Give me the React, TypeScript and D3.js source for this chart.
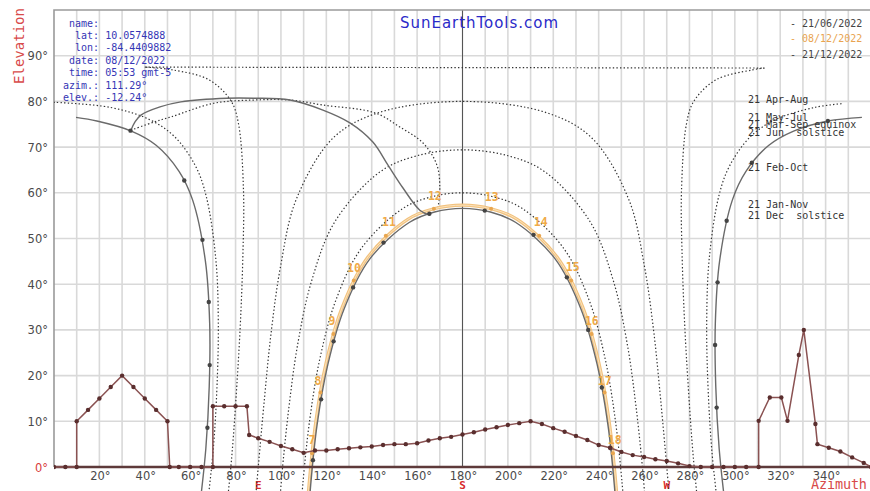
import React, { useEffect, useRef } from 'react';
import * as d3 from 'd3';

const width = 870;
const height = 491;

// horizon profile [azimuth, elevation]
const horizon = [
  [0, 0], [5, 0], [10, 0], [10, 10], [15, 12.5], [20, 15], [25, 17.5], [30, 20], [35, 17.5], [40, 15],
  [45, 12.5], [50, 10], [51, 0], [55, 0], [60, 0], [65, 0], [70, 0], [70, 13.3], [75, 13.3], [80, 13.3],
  [85, 13.3], [86, 7], [90, 6.3], [95, 5.5], [100, 4.6], [105, 3.9], [110, 3.1], [115, 3.6], [120, 3.6],
  [125, 3.9], [130, 4.1], [135, 4.3], [140, 4.5], [145, 4.8], [150, 5.0], [155, 5.0], [160, 5.2], [165, 5.8],
  [170, 6.3], [175, 6.6], [180, 7.1], [185, 7.6], [190, 8.2], [195, 8.7], [200, 9.2], [205, 9.6], [210, 10],
  [215, 9.4], [220, 8.5], [225, 7.7], [230, 6.8], [235, 5.9], [240, 4.8], [245, 4.2], [250, 3.3], [255, 2.6],
  [260, 2.2], [265, 1.7], [270, 1.3], [275, 0.8], [280, 0.2], [285, 0], [290, 0], [295, 0], [300, 0],
  [305, 0], [310.5, 0], [310.5, 10.1], [315.4, 15.2], [320.5, 15.2], [323.2, 10.1], [328.2, 24.5], [330.4, 30],
  [335.5, 9.4], [336.4, 5.0], [341.4, 4.2], [346.5, 3.4], [351.7, 2.1], [356.8, 0.9], [360, 0],
];

// day curves [azimuth, elevation]
const junLeft = [[64.0, -9.5], [66.9, 4.0], [68.4, 17.6], [68.6, 31.4], [66.7, 45.1], [61.1, 58.4], [55.1, 64.7], [45.0, 70.4], [34.1, 73.5], [18.9, 75.7], [9.7, 76.5]];
const junRight = [[356.0, 76.5], [341.1, 75.7], [325.9, 73.5], [315.0, 70.4], [304.9, 64.7], [298.9, 58.4], [293.3, 45.1], [291.4, 31.4], [291.6, 17.6], [293.1, 4.0], [296.0, -9.5]];
const mayLeft = [[67.1, -10.3], [70.1, 3.4], [71.8, 17.4], [72.4, 31.5], [71.3, 45.5], [67.0, 59.4], [62.2, 66.0], [53.1, 72.3], [42.2, 76.0], [24.7, 78.7], [0, 79.8]];
const mayRight = [[347, 79.5], [335.3, 78.7], [317.8, 76.0], [306.9, 72.3], [297.8, 66.0], [293.0, 59.4], [288.7, 45.5], [287.6, 31.5], [288.2, 17.4], [289.9, 3.4], [292.9, -10.3]];
const aprLeft = [[75.4, -12.3], [78.3, 2.1], [80.4, 16.6], [82.1, 31.2], [83.2, 45.8], [83.5, 60.5], [81.3, 75.1], [78.1, 80.0], [68.4, 84.7], [52.2, 86.9], [40, 87.5]];
const aprTop = [[40, 87.5], [313, 87.3]];
const aprRight = [[313, 87.3], [307.8, 86.9], [291.6, 84.7], [281.9, 80.0], [278.7, 75.1], [276.5, 60.5], [276.8, 45.8], [277.9, 31.2], [279.6, 16.6], [281.7, 2.1], [284.6, -12.3]];
const equinox = [[88.7, -7.4], [90, 0], [92.7, 14.8], [95.7, 29.5], [99.9, 44.1], [106.7, 58.5], [123.0, 72.0], [142.8, 77.5], [180, 80], [217.2, 77.5], [237.0, 72.0], [253.3, 58.5], [260.1, 44.1], [264.3, 29.5], [267.3, 14.8], [270, 0], [271.3, -7.4]];
const febOct = [[99.3, -9.1], [100.4, -1.8], [103.4, 12.6], [107.4, 26.9], [113.5, 40.7], [123.8, 53.7], [143.7, 64.6], [159.9, 68.1], [180, 69.4], [200.1, 68.1], [216.3, 64.6], [236.2, 53.7], [246.5, 40.7], [252.6, 26.9], [256.6, 12.6], [259.6, -1.8], [260.7, -9.1]];
const janNov = [[108.7, -10.4], [109.7, -3.4], [112.7, 10.4], [117.2, 23.8], [124.2, 36.5], [135.5, 47.9], [153.8, 56.6], [166.2, 59.1], [180, 60], [193.8, 59.1], [206.2, 56.6], [224.5, 47.9], [235.8, 36.5], [242.8, 23.8], [247.3, 10.4], [250.3, -3.4], [251.3, -10.4]];
const dec21 = [[112.2, -10.8], [113.1, -4.0], [116.0, 9.5], [120.7, 22.5], [127.9, 34.7], [139.1, 45.5], [156.5, 53.5], [167.7, 55.8], [180, 56.6], [192.3, 55.8], [203.5, 53.5], [220.9, 45.5], [232.1, 34.7], [239.3, 22.5], [244.0, 9.5], [246.9, -4.0], [247.8, -10.8]];
const dec08 = [[111.4, -10.7], [112.4, -3.8], [115.3, 9.7], [119.9, 22.8], [127.1, 35.1], [138.4, 46.0], [155.9, 54.2], [167.4, 56.5], [180, 57.3], [192.6, 56.5], [204.1, 54.2], [221.6, 46.0], [232.9, 35.1], [240.1, 22.8], [244.7, 9.7], [247.6, -3.8], [248.6, -10.7]];

// 12:00 hour lines
const noonSolid = [[33.9, 73.7], [35.7, 75.5], [38.3, 77.0], [46.7, 78.8], [55.9, 79.9], [76.2, 80.7], [88.1, 80.7], [104.0, 80.3], [118.5, 78.1], [130.4, 75.3], [140.5, 71.1], [147.1, 66.1], [153.7, 61.1], [161.2, 56.2], [165.6, 55.1]];
const noonDotted = [[33.9, 73.7], [44.1, 75.5], [51.5, 76.6], [70.5, 79.6], [88.1, 80.3], [104.0, 80.3], [118.5, 79.2], [141.4, 77.5], [152.4, 74.4], [162.6, 70.9], [168.7, 66.1], [170.0, 61.1], [169.2, 56.7]];

// hourly points
const dec21Hours = [[114.1, 1.5], [117.7, 14.8], [123.2, 27.5], [131.8, 39.3], [145.2, 49.1], [165.4, 55.4], [189.8, 56.1], [211.3, 50.8], [226.0, 41.5], [235.4, 30.0], [241.4, 17.4], [245.3, 4.1]];
const dec08Hours = [[113.7, 3.0], [117.4, 16.3], [123.1, 29.1], [132.1, 40.8], [146.2, 50.6], [167.4, 56.5], [192.6, 56.5], [213.8, 50.6], [227.9, 40.8], [236.9, 29.1], [242.6, 16.3], [246.3, 3.0]];
const junHours = [[67.6, 8.6], [68.6, 22.3], [68.2, 36.1], [65.4, 49.7], [57.4, 62.7], [33.7, 73.6], [341.0, 75.7], [307.5, 66.6], [296.4, 53.9], [292.4, 40.4], [291.3, 26.7], [292.0, 13.0]];
const hourNames = ['7', '8', '9', '10', '11', '12', '13', '14', '15', '16', '17', '18'];
const hourLabelPos = [[113.7, 5.9], [116.3, 18.8], [122.5, 32.0], [132.2, 43.6], [147.6, 53.6], [167.8, 59.3], [192.9, 59.1], [214.5, 53.6], [228.6, 43.8], [237.0, 32.0], [242.7, 18.8], [247.1, 5.9]];

const elevTicks = [10, 20, 30, 40, 50, 60, 70, 80, 90];
const azimTicks = [20, 40, 60, 80, 100, 120, 140, 160, 180, 200, 220, 240, 260, 280, 300, 320, 340];
const cardinals = [['E', 90], ['S', 180], ['W', 270]];

const infoLines = [' name:', '  lat: 10.0574888', '  lon: -84.4409882', ' date: 08/12/2022', ' time: 05:53 gmt-5', 'azim.: 111.29°', 'elev.: -12.24°'];
const legendDates = ['- 21/06/2022', '- 08/12/2022', '- 21/12/2022'];
const curveNames = ['21 Apr-Aug', '21 May-Jul', '21 Mar-Sep equinox', '21 Jun  solstice', '21 Feb-Oct', '21 Jan-Nov', '21 Dec  solstice'];
const curveNameY = [103, 121, 128, 135.5, 171, 208, 219];

const App = () => {
  const ref = useRef<SVGSVGElement>(null);

  useEffect(() => {
    const svg = d3.select(ref.current);
    svg.selectAll('*').remove();

    const x = d3.scaleLinear().domain([0, 360]).range([54, 871]);
    const y = d3.scaleLinear().domain([0, 100]).range([467, 10]);

    svg.append('rect').attr('width', width).attr('height', height).attr('fill', '#fff');

    // grid
    const grid = svg.append('g');
    grid.selectAll('line.v')
      .data(d3.range(10, 361, 10))
      .enter().append('line')
      .attr('x1', d => x(d)).attr('x2', d => x(d))
      .attr('y1', y(100)).attr('y2', y(0))
      .attr('stroke', '#d9d9d9').attr('stroke-width', 1.6);
    grid.selectAll('line.h')
      .data(elevTicks)
      .enter().append('line')
      .attr('x1', x(0)).attr('x2', width)
      .attr('y1', d => y(d)).attr('y2', d => y(d))
      .attr('stroke', '#d9d9d9').attr('stroke-width', 1.6);
    grid.append('line')
      .attr('x1', x(180)).attr('x2', x(180)).attr('y1', y(100)).attr('y2', y(0))
      .attr('stroke', '#555').attr('stroke-width', 1);
    grid.append('path')
      .attr('d', `M${x(0)},${y(0)}V${y(100)}H${width}`)
      .attr('fill', 'none').attr('stroke', '#9a9a9a').attr('stroke-width', 1.6);

    // axis labels
    svg.selectAll('text.yl')
      .data([0, ...elevTicks])
      .enter().append('text')
      .attr('x', 48).attr('y', d => y(d) + 4.5)
      .attr('text-anchor', 'end')
      .style('font-family', '"DejaVu Sans", sans-serif').style('font-size', '11.5px')
      .attr('fill', d => d === 0 ? '#d83c3c' : '#4a4a4a')
      .text(d => `${d}°`);
    svg.selectAll('text.xl')
      .data(azimTicks)
      .enter().append('text')
      .attr('x', d => x(d) + 1).attr('y', 480)
      .attr('text-anchor', 'middle')
      .style('font-family', '"DejaVu Sans", sans-serif').style('font-size', '11.5px')
      .attr('fill', '#4a4a4a')
      .text(d => `${d}°`);
    svg.selectAll('text.card')
      .data(cardinals)
      .enter().append('text')
      .attr('x', d => x(+d[1])).attr('y', 489)
      .attr('text-anchor', 'middle')
      .style('font-family', '"DejaVu Sans Mono", monospace').style('font-size', '11px').style('font-weight', 'bold')
      .attr('fill', '#d82a2a')
      .text(d => String(d[0]));

    svg.append('text')
      .attr('transform', 'translate(24,84) rotate(-90)')
      .style('font-family', '"DejaVu Sans Mono", monospace').style('font-size', '14px')
      .attr('fill', '#d84a4a').attr('textLength', 76)
      .text('Elevation');
    svg.append('text')
      .attr('x', 811).attr('y', 489)
      .style('font-family', '"DejaVu Sans Mono", monospace').style('font-size', '13.5px')
      .attr('fill', '#d84a4a').attr('textLength', 56)
      .text('Azimuth');

    // curves
    svg.append('defs').append('clipPath').attr('id', 'plotclip')
      .append('rect').attr('x', x(0)).attr('y', y(100)).attr('width', width - x(0)).attr('height', height - y(100));
    const plot = svg.append('g').attr('clip-path', 'url(#plotclip)');

    const smooth = d3.line<number[]>().x(d => x(d[0])).y(d => y(d[1])).curve(d3.curveCatmullRom.alpha(0.5));
    const straight = d3.line<number[]>().x(d => x(d[0])).y(d => y(d[1]));

    const dotted = [mayLeft, mayRight, aprLeft, aprRight, equinox, febOct, janNov, noonDotted];
    plot.selectAll('path.dotted')
      .data(dotted)
      .enter().append('path')
      .attr('d', d => smooth(d))
      .attr('fill', 'none').attr('stroke', '#333').attr('stroke-width', 1.2)
      .attr('stroke-dasharray', '1.4,2.2');
    plot.append('path')
      .attr('d', straight(aprTop))
      .attr('fill', 'none').attr('stroke', '#333').attr('stroke-width', 1.2)
      .attr('stroke-dasharray', '1.4,2.2');

    plot.append('path')
      .attr('d', smooth(dec08))
      .attr('fill', 'none').attr('stroke', '#f2c27e').attr('stroke-width', 3.2);
    plot.append('path')
      .attr('d', smooth(dec08))
      .attr('fill', 'none').attr('stroke', '#fbe6c6').attr('stroke-width', 0.9);

    plot.selectAll('path.solid')
      .data([junLeft, junRight, dec21, noonSolid])
      .enter().append('path')
      .attr('d', d => smooth(d))
      .attr('fill', 'none').attr('stroke', '#6a6a6a').attr('stroke-width', 1.4);

    plot.selectAll('circle.dh')
      .data(dec08Hours)
      .enter().append('circle')
      .attr('cx', d => x(d[0])).attr('cy', d => y(d[1])).attr('r', 2)
      .attr('fill', '#e8a650');
    plot.selectAll('circle.gh')
      .data([...dec21Hours, ...junHours])
      .enter().append('circle')
      .attr('cx', d => x(d[0])).attr('cy', d => y(d[1])).attr('r', 2.2)
      .attr('fill', '#444');

    // horizon profile
    plot.append('line')
      .attr('x1', x(0)).attr('x2', x(360)).attr('y1', y(0)).attr('y2', y(0))
      .attr('stroke', '#5e3a3a').attr('stroke-width', 2.6);
    plot.append('path')
      .attr('d', straight(horizon))
      .attr('fill', 'none').attr('stroke', '#8a5252').attr('stroke-width', 1.5);
    plot.selectAll('circle.hz')
      .data(horizon)
      .enter().append('circle')
      .attr('cx', d => x(d[0])).attr('cy', d => y(d[1])).attr('r', 2.2)
      .attr('fill', '#5a2e2e');

    // hour labels
    svg.selectAll('text.hr')
      .data(hourNames)
      .enter().append('text')
      .attr('x', (d, i) => x(hourLabelPos[i][0])).attr('y', (d, i) => y(hourLabelPos[i][1]) + 4)
      .attr('text-anchor', 'middle')
      .style('font-family', '"DejaVu Sans Mono", monospace').style('font-size', '11.5px').style('font-weight', 'bold')
      .attr('fill', '#f0aa48')
      .text(d => d);

    // texts
    const mono = (sel: any) => sel.style('font-family', '"DejaVu Sans Mono", monospace').style('font-size', '10px').style('white-space', 'pre');

    svg.selectAll('text.info')
      .data(infoLines)
      .enter().append('text')
      .attr('x', 63).attr('y', (d, i) => 26.5 + i * 12.4)
      .call(mono)
      .attr('fill', '#3535b5')
      .text(d => d);

    svg.selectAll('text.leg')
      .data(legendDates)
      .enter().append('text')
      .attr('x', 790).attr('y', (d, i) => 26.5 + i * 15.5)
      .call(mono)
      .attr('fill', (d, i) => i === 1 ? '#e9a450' : '#444')
      .text(d => d);

    svg.selectAll('text.cn')
      .data(curveNames)
      .enter().append('text')
      .attr('x', 748).attr('y', (d, i) => curveNameY[i])
      .call(mono)
      .attr('fill', '#333')
      .text(d => d);

    svg.append('text')
      .attr('x', 400).attr('y', 28)
      .style('font-family', '"DejaVu Sans", sans-serif').style('font-size', '15px')
      .attr('fill', '#2a2ac8').attr('textLength', 158)
      .text('SunEarthTools.com');
  }, []);

  return (
    <svg ref={ref} width={width} height={height}
      style={{ position: 'absolute', left: 0, top: 0, display: 'block' }} />
  );
};

export default App;
